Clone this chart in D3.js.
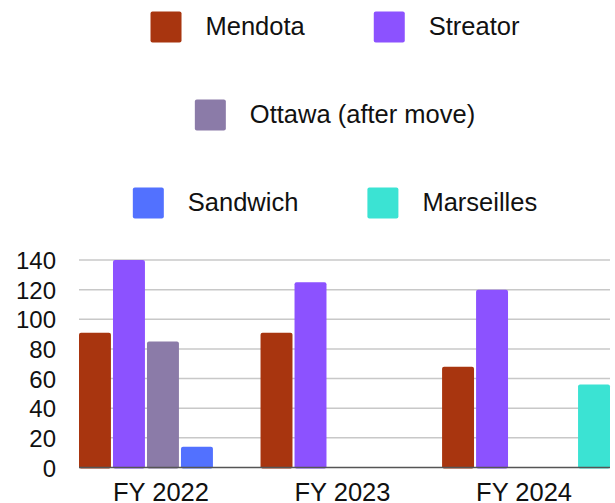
<!DOCTYPE html>
<html>
<head>
<meta charset="utf-8">
<script src="https://cdn.jsdelivr.net/npm/d3@7"></script>
<style>
  body { margin: 0; background: #fff; }
  text { font-family: "Liberation Sans", Arial, sans-serif; fill: #111; }
</style>
</head>
<body>
<div id="chart"></div>
<script>
var years = ["FY 2022", "FY 2023", "FY 2024"];
var sites = ["Mendota", "Streator", "Ottawa (after move)", "Sandwich", "Marseilles"];
var colors = ["#a8350f", "#8c52ff", "#8b7ba8", "#5271ff", "#3be3d3"];
var mendota = [91, 91, 68];
var streator = [140, 125, 120];
var ottawa = [85, 0, 0];
var sandwich = [14, 0, 0];
var marseilles = [0, 0, 56];
var yTicks = [0, 20, 40, 60, 80, 100, 120, 140];
var legendRows = [[0, 1], [2], [3, 4]];

var seriesValues = [mendota, streator, ottawa, sandwich, marseilles];

var width = 615,
  height = 503;

var svg = d3
  .select("#chart")
  .append("svg")
  .attr("width", width)
  .attr("height", height);

var x0 = d3.scaleBand().domain(years).range([79, 610]).paddingInner(0.075).paddingOuter(0);
var x1 = d3
  .scaleBand()
  .domain(d3.range(sites.length))
  .range([0, x0.bandwidth()])
  .paddingInner(0.06)
  .paddingOuter(0);
var y = d3.scaleLinear().domain([0, 140]).range([467.5, 260]);

// grid
svg
  .append("g")
  .selectAll("line")
  .data(yTicks.filter(function(d) { return d > 0; }))
  .enter()
  .append("line")
  .attr("x1", 79)
  .attr("x2", 610)
  .attr("y1", function(d) { return y(d); })
  .attr("y2", function(d) { return y(d); })
  .style("stroke", "#c8c8c8")
  .style("stroke-width", 1.5);

// y labels
svg
  .append("g")
  .selectAll("text")
  .data(yTicks)
  .enter()
  .append("text")
  .attr("x", 56)
  .attr("y", function(d) { return y(d) + 9; })
  .attr("text-anchor", "end")
  .style("font-size", "24px")
  .text(function(d) { return d; });

// bars
var groups = svg
  .append("g")
  .selectAll("g")
  .data(years)
  .enter()
  .append("g")
  .attr("transform", function(d) { return "translate(" + x0(d) + ",0)"; });

groups
  .selectAll("rect")
  .data(function(d, i) {
    return seriesValues.map(function(s, k) { return { k: k, v: s[i] }; });
  })
  .enter()
  .append("rect")
  .filter(function(d) { return d.v > 0; })
  .attr("x", function(d) { return x1(d.k); })
  .attr("width", x1.bandwidth())
  .attr("y", function(d) { return y(d.v); })
  .attr("height", function(d) { return y(0) - y(d.v) + 1; })
  .attr("rx", 2)
  .style("fill", function(d) { return colors[d.k]; });

// baseline
svg
  .append("line")
  .attr("x1", 79)
  .attr("x2", 610)
  .attr("y1", y(0))
  .attr("y2", y(0))
  .style("stroke", "#555")
  .style("stroke-width", 1.5);

// x labels
svg
  .append("g")
  .selectAll("text")
  .data(years)
  .enter()
  .append("text")
  .attr("x", function(d) { return x0(d) + x0.bandwidth() / 2 - 2; })
  .attr("y", 501)
  .attr("text-anchor", "middle")
  .style("font-size", "25.5px")
  .text(function(d) { return d; });

// legend
var rowY = [27, 115, 203];
var legend = svg.append("g");
legendRows.forEach(function(row, r) {
  var items = row.map(function(k) {
    var g = legend.append("g");
    g.append("rect")
      .attr("width", 31)
      .attr("height", 31)
      .attr("y", rowY[r] - 15.5)
      .attr("rx", 2)
      .style("fill", colors[k]);
    var t = g
      .append("text")
      .attr("x", 55)
      .attr("y", rowY[r] + 8)
      .style("font-size", "25.5px")
      .text(sites[k]);
    return { g: g, w: 55 + t.node().getComputedTextLength() };
  });
  var total = d3.sum(items, function(d) { return d.w; }) + 69 * (items.length - 1);
  var cx = 335 - total / 2;
  items.forEach(function(it) {
    it.g.attr("transform", "translate(" + cx + ",0)");
    cx += it.w + 69;
  });
});
</script>
</body>
</html>
